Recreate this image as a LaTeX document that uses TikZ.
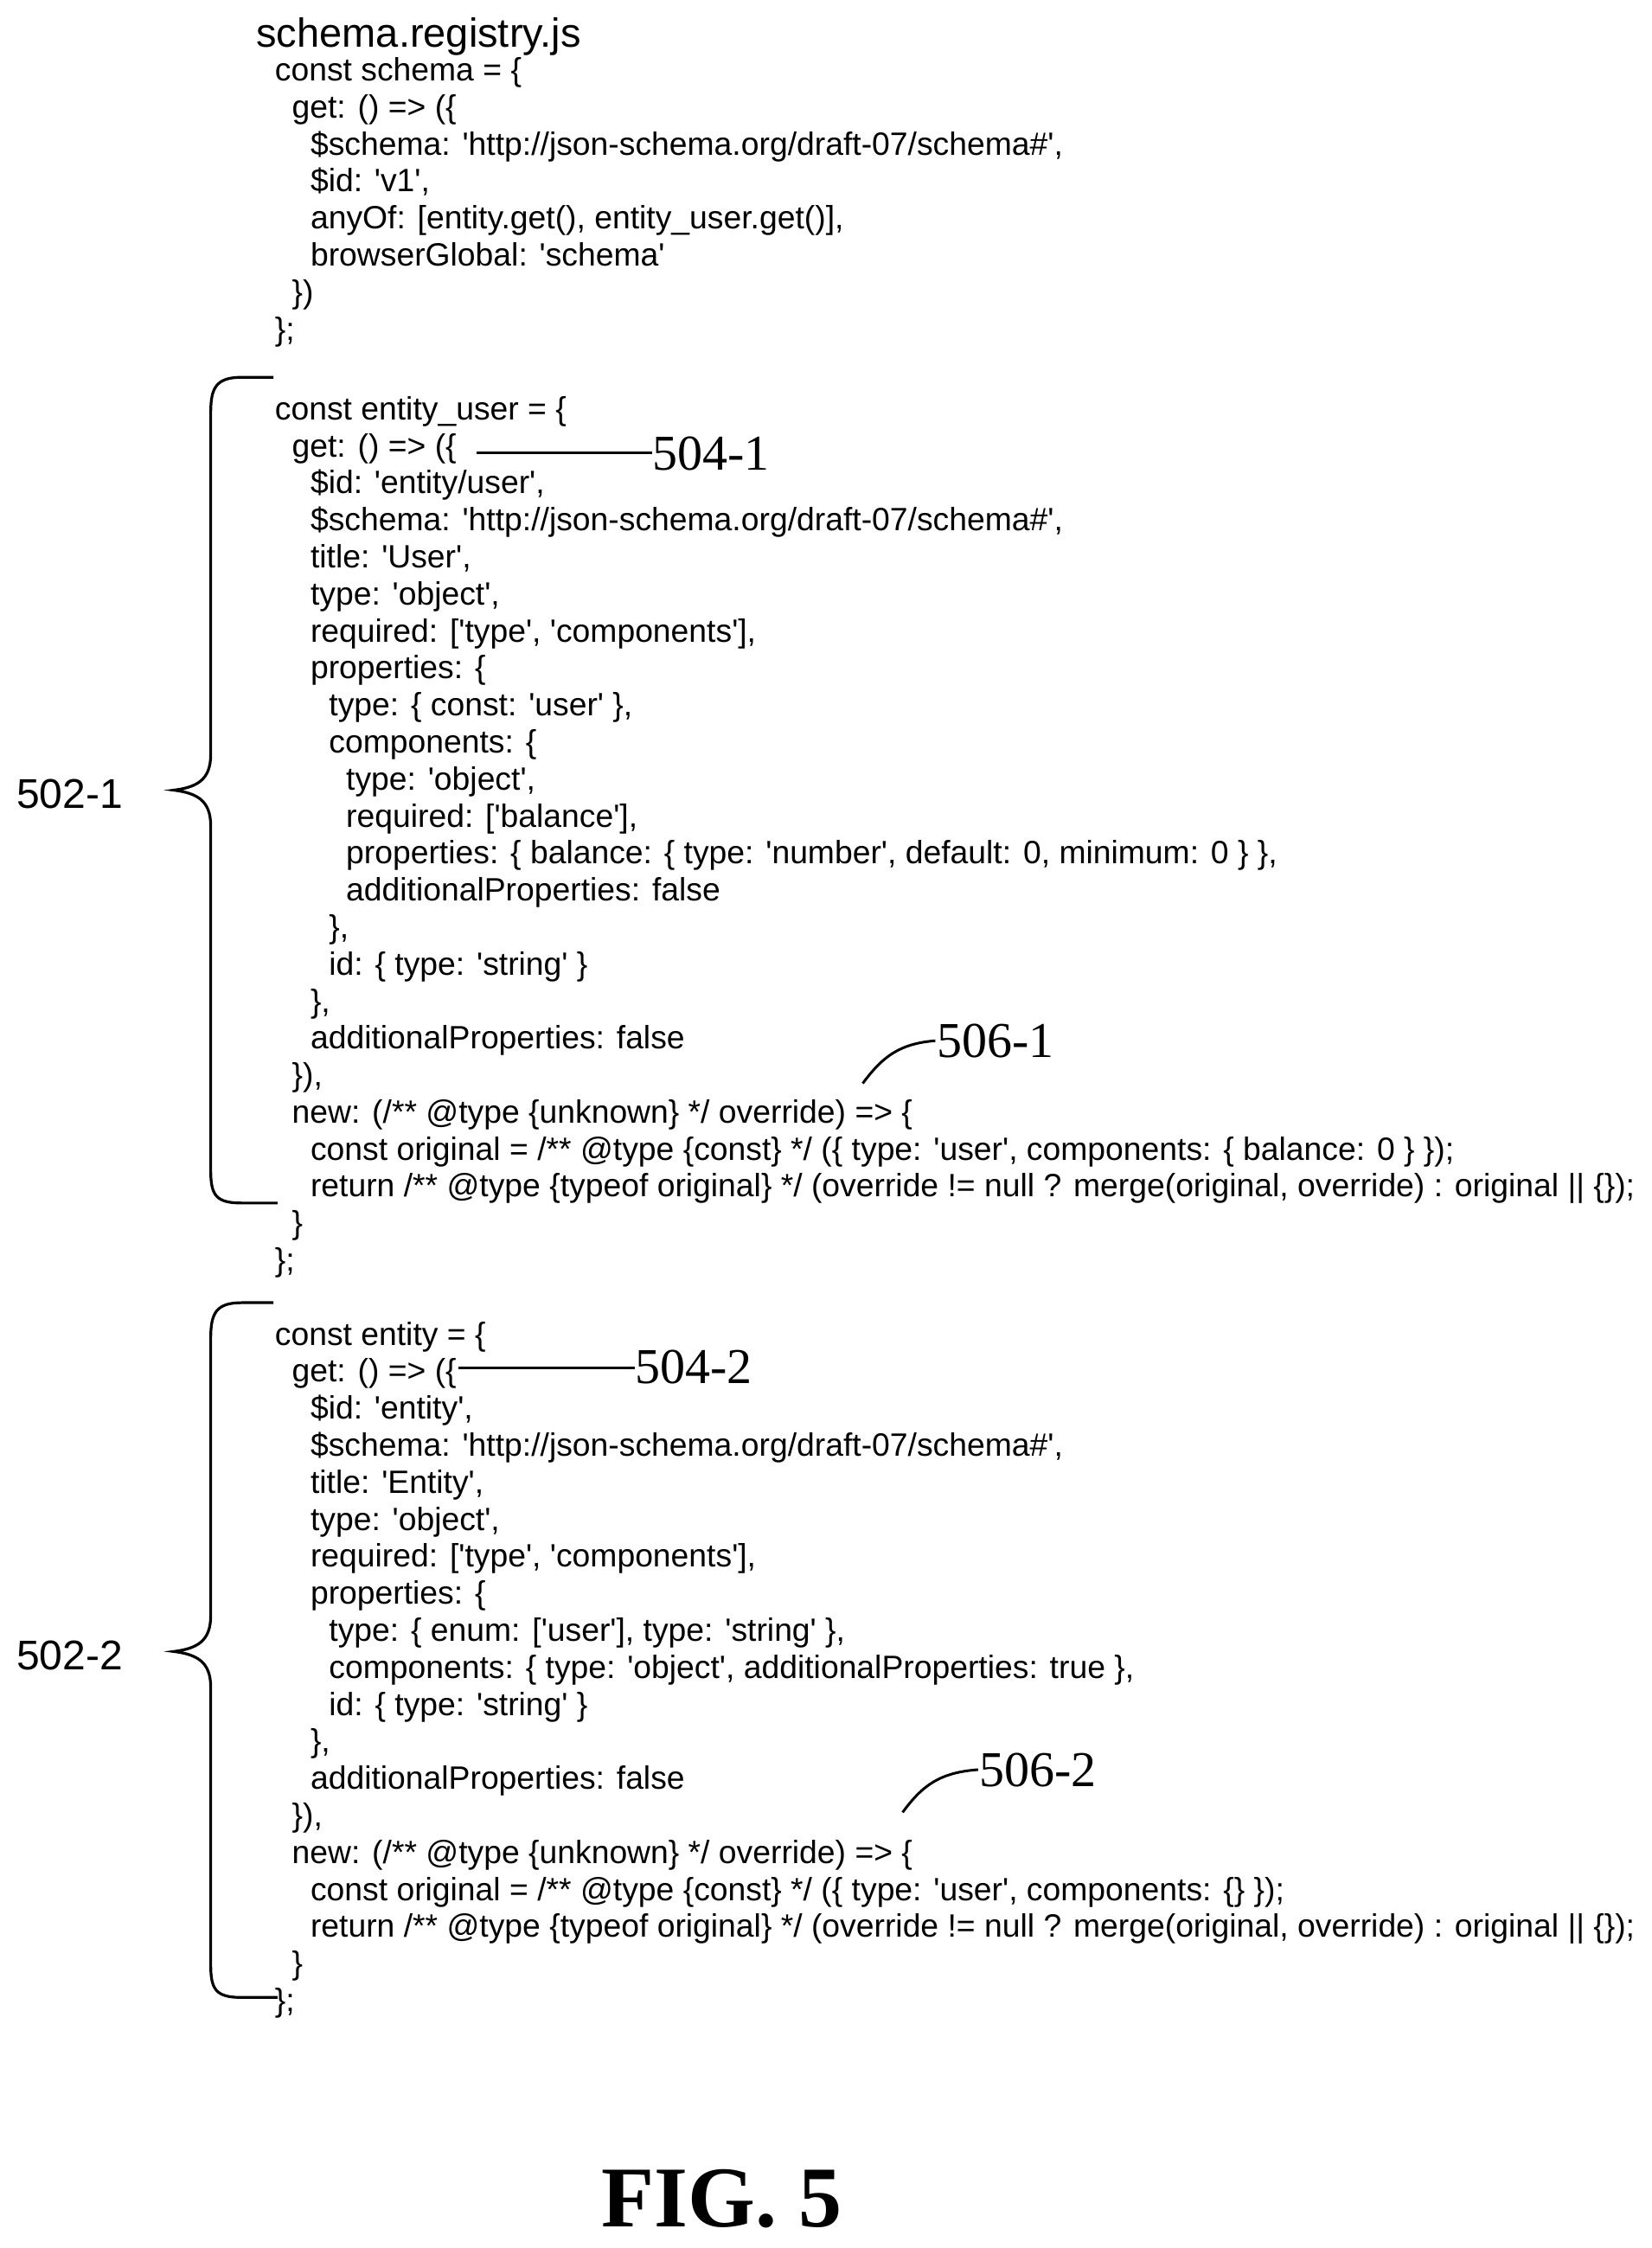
\documentclass[tikz,border=0pt]{standalone}
\usepackage{fontspec}
\newfontfamily\code{Liberation Sans}
\newfontfamily\lab{Liberation Serif}
\begin{document}
\begin{tikzpicture}[x=1.64569pt,y=-1.64569pt,
  c/.style={anchor=base west,inner sep=0pt,yshift=-3pt,font=\code\fontsize{37.3}{40}\selectfont},
  rl/.style={anchor=base west,inner sep=0pt,font=\lab\fontsize{58}{62}\selectfont},
  bl/.style={anchor=base,inner sep=0pt,font=\code\fontsize{48}{52}\selectfont},
  ld/.style={line width=3pt},
  br/.style={line width=3.2pt}]
\useasboundingbox (0,0) rectangle (1160,1579);
\node[c,font=\code\fontsize{47}{50}\selectfont] (t) at (180,31) {schema.registry.js};
\node[c] (a1) at (193,55) {const schema = \{};
\node[c] (a2) at (205,81) {get: () => (\{};
\node[c] (a3) at (218,107) {\$schema: 'http://json-schema.org/draft-07/schema\#',};
\node[c] (a4) at (218,133) {\$id: 'v1',};
\node[c] (a5) at (218,159) {anyOf: [entity.get(), entity\_user.get()],};
\node[c] (a6) at (218,185) {browserGlobal: 'schema'};
\node[c] (a7) at (205,211) {\})};
\node[c] (a8) at (193,237) {\};};
% block 1
\node[c] (b1) at (193,293) {const entity\_user = \{};
\node[c] (b2) at (205,319) {get: () => (\{};
\node[c] (b3) at (218,345) {\$id: 'entity/user',};
\node[c] (b4) at (218,371) {\$schema: 'http://json-schema.org/draft-07/schema\#',};
\node[c] (b5) at (218,397) {title: 'User',};
\node[c] (b6) at (218,423) {type: 'object',};
\node[c] (b7) at (218,449) {required: ['type', 'components'],};
\node[c] (b8) at (218,475) {properties: \{};
\node[c] (b9) at (231,501) {type: \{ const: 'user' \},};
\node[c] (b10) at (231,527) {components: \{};
\node[c] (b11) at (243,553) {type: 'object',};
\node[c] (b12) at (243,579) {required: ['balance'],};
\node[c] (b13) at (243,605) {properties: \{ balance: \{ type: 'number', default: 0, minimum: 0 \} \},};
\node[c] (b14) at (243,631) {additionalProperties: false};
\node[c] (b15) at (231,657) {\},};
\node[c] (b16) at (231,683) {id: \{ type: 'string' \}};
\node[c] (b17) at (218,709) {\},};
\node[c] (b18) at (218,735) {additionalProperties: false};
\node[c] (b19) at (205,761) {\}),};
\node[c] (b20) at (205,787) {new: (/** @type \{unknown\} */ override) => \{};
\node[c] (b21) at (218,813) {const original = /** @type \{const\} */ (\{ type: 'user', components: \{ balance: 0 \} \});};
\node[c] (b22) at (218,839) {return /** @type \{typeof original\} */ (override != null ? merge(original, override) : original || \{\});};
\node[c] (b23) at (205,865) {\}};
\node[c] (b24) at (193,891) {\};};
% block 2
\node[c] (d1) at (193,943) {const entity = \{};
\node[c] (d2) at (205,969) {get: () => (\{};
\node[c] (d3) at (218,995) {\$id: 'entity',};
\node[c] (d4) at (218,1021) {\$schema: 'http://json-schema.org/draft-07/schema\#',};
\node[c] (d5) at (218,1047) {title: 'Entity',};
\node[c] (d6) at (218,1073) {type: 'object',};
\node[c] (d7) at (218,1099) {required: ['type', 'components'],};
\node[c] (d8) at (218,1125) {properties: \{};
\node[c] (d9) at (231,1151) {type: \{ enum: ['user'], type: 'string' \},};
\node[c] (d10) at (231,1177) {components: \{ type: 'object', additionalProperties: true \},};
\node[c] (d11) at (231,1203) {id: \{ type: 'string' \}};
\node[c] (d12) at (218,1229) {\},};
\node[c] (d13) at (218,1255) {additionalProperties: false};
\node[c] (d14) at (205,1281) {\}),};
\node[c] (d15) at (205,1307) {new: (/** @type \{unknown\} */ override) => \{};
\node[c] (d16) at (218,1333) {const original = /** @type \{const\} */ (\{ type: 'user', components: \{\} \});};
\node[c] (d17) at (218,1359) {return /** @type \{typeof original\} */ (override != null ? merge(original, override) : original || \{\});};
\node[c] (d18) at (205,1385) {\}};
\node[c] (d19) at (193,1411) {\};};
% braces
\draw[br] (192,265) -- (170,265) .. controls (152,265) and (148,272) .. (148,290) -- (148,530)
  .. controls (148,548) and (138,553) .. (122,555) .. controls (138,557) and (148,562) .. (148,580)
  -- (148,822) .. controls (148,840) and (152,845) .. (170,845) -- (195,845);
\draw[br] (192,915) -- (170,915) .. controls (152,915) and (148,922) .. (148,940) -- (148,1135)
  .. controls (148,1153) and (138,1158) .. (122,1160) .. controls (138,1162) and (148,1167) .. (148,1185)
  -- (148,1380) .. controls (148,1398) and (152,1403) .. (170,1403) -- (195,1403);
\node[bl] (L1) at (49,568) {502-1};
\node[bl] (L2) at (49,1173) {502-2};
% leaders
\node[rl] (r1) at (458,330) {504-1};
\coordinate (p1) at (335,318);
\draw[ld] (p1) -- (r1.west |- p1);
\node[rl] (r2) at (446,972) {504-2};
\coordinate (p2) at (322,961);
\draw[ld] (p2) -- (r2.west |- p2);
\node[rl] (r3) at (658,743) {506-1};
\coordinate (p3) at (606,761);
\draw[ld] (p3) .. controls (620,742) and (632,733) .. (657,731);
\node[rl] (r4) at (688,1255) {506-2};
\coordinate (p4) at (634,1273);
\draw[ld] (p4) .. controls (648,1254) and (660,1245) .. (687,1243);
\node[anchor=base,inner sep=0pt,font=\lab\bfseries\fontsize{100}{110}\selectfont] (fig) at (507,1564) {FIG. 5};
\end{tikzpicture}
\end{document}
